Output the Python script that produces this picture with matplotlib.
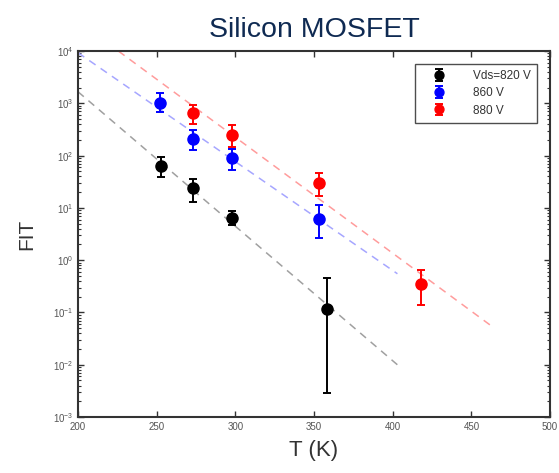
import matplotlib
matplotlib.use("Agg")
import matplotlib.pyplot as plt
import numpy as np

plt.rcParams['font.family'] = ['Liberation Sans', 'DejaVu Sans']
plt.rcParams['mathtext.fontset'] = 'custom'
plt.rcParams['mathtext.rm'] = 'Liberation Sans'

# measured FIT vs temperature
T_820 = [253, 273, 298, 358]
fit_820 = [64, 23.6, 6.5, 0.117]
lo_820 = [39, 13, 4.8, 0.0029]
hi_820 = [96, 35, 8.6, 0.46]

T_860 = [252, 273, 298, 353]
fit_860 = [1000, 204, 90, 6.1]
lo_860 = [690, 129, 53, 2.6]
hi_860 = [1550, 305, 134, 11.6]

T_880 = [273, 298, 353, 418]
fit_880 = [645, 243, 29.6, 0.355]
lo_880 = [410, 145, 17, 0.14]
hi_880 = [930, 380, 46, 0.66]

# dashed fit lines (end points)
fitT_820 = [200, 404]
fitY_820 = [1670, 0.0094]
fitT_860 = [200, 403]
fitY_860 = [9300, 0.55]
fitT_880 = [225.7, 463.5]
fitY_880 = [10000, 0.053]

fig = plt.figure(figsize=(5.59, 4.73), dpi=100)
ax = fig.add_axes([0.1395, 0.1184, 0.8445, 0.7736])

series = [
    (T_820, fit_820, lo_820, hi_820, fitT_820, fitY_820, 'black', '#a0a0a0', 'Vds=820 V'),
    (T_860, fit_860, lo_860, hi_860, fitT_860, fitY_860, 'blue', '#a6a6ff', '860 V'),
    (T_880, fit_880, lo_880, hi_880, fitT_880, fitY_880, 'red', '#ff9c9c', '880 V'),
]

for T, y, lo, hi, ft, fy, c, lc, lab in series:
    y = np.array(y)
    err = [y - np.array(lo), np.array(hi) - y]
    ax.errorbar(T, y, yerr=err, fmt='o', color=c, ms=8, capsize=3,
                elinewidth=1.4, capthick=1.4, label=lab, zorder=3)
    # fit line straight in log space
    tt = np.linspace(ft[0], ft[1], 50)
    ly = np.interp(tt, ft, np.log10(fy))
    ax.plot(tt, 10 ** ly, ls=(0, (5, 4)), color=lc, lw=1.1, zorder=2)

ax.set_yscale('log')
ax.set_xlim(200, 500)
ax.set_ylim(1e-3, 1e4)
ax.set_xticks([200, 250, 300, 350, 400, 450, 500])
ax.set_yticks([10.0 ** k for k in range(-3, 5)])
ax.tick_params(which='both', direction='in', top=True, right=True,
               labelsize=7, labelcolor='#555555', color='#333333')
ax.tick_params(which='major', length=4, width=1)
ax.tick_params(which='minor', length=2, width=0.8)
for s in ax.spines.values():
    s.set_linewidth(1.5)
    s.set_color('#333333')

ax.set_xlabel('T (K)', fontsize=16, color='#333333', labelpad=6)
ax.set_ylabel('FIT', fontsize=15, color='#333333', labelpad=12)
ax.set_title('Silicon MOSFET', fontsize=20.5, color='#0f2a52', pad=10)

leg = ax.legend(loc='upper right', fontsize=8.5, frameon=True, fancybox=False,
                edgecolor='#222222', borderaxespad=1.1, handletextpad=1.4,
                labelspacing=0.45, markerscale=0.8, handlelength=3.0,
                borderpad=0.5)
leg.get_frame().set_linewidth(1.0)
for t in leg.get_texts():
    t.set_color('#333333')

fig.savefig('out.png', dpi=100)
